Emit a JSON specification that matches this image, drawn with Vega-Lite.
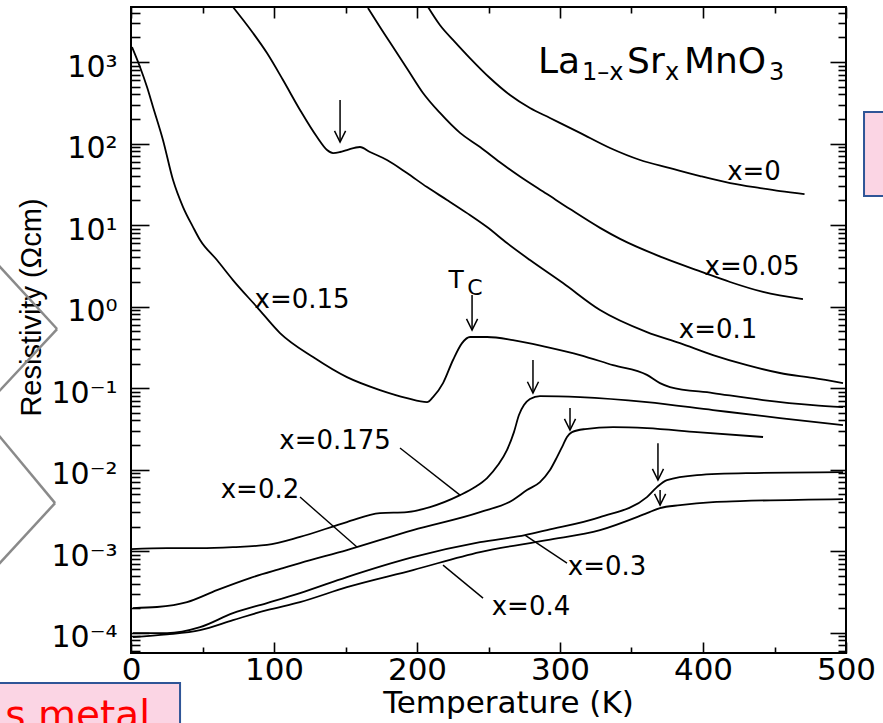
{
  "$schema": "https://vega.github.io/schema/vega-lite/v6.json",
  "width": 715,
  "height": 646,
  "autosize": "none",
  "padding": {"left": 131, "top": 7, "right": 37, "bottom": 70},
  "background": "white",
  "config": {
    "view": {"stroke": "black", "strokeWidth": 2},
    "axis": {"tickColor": "black", "tickWidth": 1.6, "labelColor": "black", "titleColor": "black", "grid": false, "domain": false},
    "text": {"font": "DejaVu Sans", "color": "black"}
  },
  "datasets": {
    "one": [{}],
    "curves": [
      {"s": "x=0", "T": 207.7, "rho": 4730},
      {"s": "x=0", "T": 216.0, "rho": 2844},
      {"s": "x=0", "T": 226.6, "rho": 1758},
      {"s": "x=0", "T": 237.0, "rho": 1119},
      {"s": "x=0", "T": 251.0, "rho": 637},
      {"s": "x=0", "T": 265.0, "rho": 394},
      {"s": "x=0", "T": 279.0, "rho": 273},
      {"s": "x=0", "T": 293.0, "rho": 206},
      {"s": "x=0", "T": 314.0, "rho": 135},
      {"s": "x=0", "T": 335.0, "rho": 88.1},
      {"s": "x=0", "T": 356.0, "rho": 62.8},
      {"s": "x=0", "T": 377.0, "rho": 50.0},
      {"s": "x=0", "T": 398.0, "rho": 39.9},
      {"s": "x=0", "T": 419.0, "rho": 32.7},
      {"s": "x=0", "T": 440.0, "rho": 28.4},
      {"s": "x=0", "T": 454.0, "rho": 26.1},
      {"s": "x=0", "T": 471.0, "rho": 24.0},

      {"s": "x=0.05", "T": 165.7, "rho": 4600},
      {"s": "x=0.05", "T": 174.1, "rho": 2685},
      {"s": "x=0.05", "T": 184.6, "rho": 1403},
      {"s": "x=0.05", "T": 193.7, "rho": 798},
      {"s": "x=0.05", "T": 204.2, "rho": 417},
      {"s": "x=0.05", "T": 216.1, "rho": 237},
      {"s": "x=0.05", "T": 230.1, "rho": 135},
      {"s": "x=0.05", "T": 244.1, "rho": 90.6},
      {"s": "x=0.05", "T": 258.0, "rho": 58.9},
      {"s": "x=0.05", "T": 272.0, "rho": 39.4},
      {"s": "x=0.05", "T": 290.9, "rho": 24.0},
      {"s": "x=0.05", "T": 307.0, "rho": 15.7},
      {"s": "x=0.05", "T": 328.0, "rho": 9.23},
      {"s": "x=0.05", "T": 342.0, "rho": 6.76},
      {"s": "x=0.05", "T": 372.0, "rho": 3.98},
      {"s": "x=0.05", "T": 400.0, "rho": 2.63},
      {"s": "x=0.05", "T": 418.9, "rho": 2.00},
      {"s": "x=0.05", "T": 442.0, "rho": 1.51},
      {"s": "x=0.05", "T": 469.9, "rho": 1.23},

      {"s": "x=0.1", "T": 71.3, "rho": 4730},
      {"s": "x=0.1", "T": 85.3, "rho": 2270},
      {"s": "x=0.1", "T": 95.1, "rho": 1288},
      {"s": "x=0.1", "T": 106.3, "rho": 601},
      {"s": "x=0.1", "T": 118.2, "rho": 258},
      {"s": "x=0.1", "T": 130.1, "rho": 120},
      {"s": "x=0.1", "T": 137.1, "rho": 83.2},
      {"s": "x=0.1", "T": 141.3, "rho": 76.4},
      {"s": "x=0.1", "T": 146.2, "rho": 78.7},
      {"s": "x=0.1", "T": 151.0, "rho": 83.2},
      {"s": "x=0.1", "T": 160.1, "rho": 90.6},
      {"s": "x=0.1", "T": 167.1, "rho": 78.7},
      {"s": "x=0.1", "T": 179.0, "rho": 62.8},
      {"s": "x=0.1", "T": 193.0, "rho": 43.4},
      {"s": "x=0.1", "T": 207.0, "rho": 29.2},
      {"s": "x=0.1", "T": 221.0, "rho": 20.3},
      {"s": "x=0.1", "T": 235.0, "rho": 14.0},
      {"s": "x=0.1", "T": 249.0, "rho": 9.44},
      {"s": "x=0.1", "T": 262.9, "rho": 6.01},
      {"s": "x=0.1", "T": 279.0, "rho": 3.72},
      {"s": "x=0.1", "T": 302.1, "rho": 1.94},
      {"s": "x=0.1", "T": 328.0, "rho": 0.906},
      {"s": "x=0.1", "T": 360.8, "rho": 0.486},
      {"s": "x=0.1", "T": 383.9, "rho": 0.356},
      {"s": "x=0.1", "T": 407.0, "rho": 0.254},
      {"s": "x=0.1", "T": 430.8, "rho": 0.191},
      {"s": "x=0.1", "T": 453.8, "rho": 0.153},
      {"s": "x=0.1", "T": 476.9, "rho": 0.133},
      {"s": "x=0.1", "T": 497.9, "rho": 0.115},

      {"s": "x=0.15", "T": 0.7, "rho": 1528},
      {"s": "x=0.15", "T": 6.3, "rho": 869},
      {"s": "x=0.15", "T": 11.2, "rho": 493},
      {"s": "x=0.15", "T": 15.4, "rho": 281},
      {"s": "x=0.15", "T": 22.4, "rho": 110},
      {"s": "x=0.15", "T": 29.4, "rho": 35.6},
      {"s": "x=0.15", "T": 36.4, "rho": 16.6},
      {"s": "x=0.15", "T": 43.4, "rho": 9.44},
      {"s": "x=0.15", "T": 48.3, "rho": 6.55},
      {"s": "x=0.15", "T": 60.1, "rho": 3.72},
      {"s": "x=0.15", "T": 71.3, "rho": 2.11},
      {"s": "x=0.15", "T": 88.1, "rho": 0.986},
      {"s": "x=0.15", "T": 104.2, "rho": 0.473},
      {"s": "x=0.15", "T": 127.3, "rho": 0.240},
      {"s": "x=0.15", "T": 151.0, "rho": 0.136},
      {"s": "x=0.15", "T": 174.1, "rho": 0.0944},
      {"s": "x=0.15", "T": 193.0, "rho": 0.0753},
      {"s": "x=0.15", "T": 207.0, "rho": 0.0673},
      {"s": "x=0.15", "T": 211.2, "rho": 0.0776},
      {"s": "x=0.15", "T": 218.2, "rho": 0.115},
      {"s": "x=0.15", "T": 225.2, "rho": 0.221},
      {"s": "x=0.15", "T": 231.5, "rho": 0.356},
      {"s": "x=0.15", "T": 237.1, "rho": 0.423},
      {"s": "x=0.15", "T": 249.0, "rho": 0.423},
      {"s": "x=0.15", "T": 267.1, "rho": 0.388},
      {"s": "x=0.15", "T": 290.9, "rho": 0.318},
      {"s": "x=0.15", "T": 314.0, "rho": 0.254},
      {"s": "x=0.15", "T": 337.1, "rho": 0.191},
      {"s": "x=0.15", "T": 360.8, "rho": 0.145},
      {"s": "x=0.15", "T": 369.9, "rho": 0.115},
      {"s": "x=0.15", "T": 376.9, "rho": 0.103},
      {"s": "x=0.15", "T": 407.0, "rho": 0.0869},
      {"s": "x=0.15", "T": 442.0, "rho": 0.0713},
      {"s": "x=0.15", "T": 476.9, "rho": 0.0618},
      {"s": "x=0.15", "T": 497.9, "rho": 0.0585},

      {"s": "x=0.175", "T": 0.0, "rho": 0.00106},
      {"s": "x=0.175", "T": 25.2, "rho": 0.00109},
      {"s": "x=0.175", "T": 48.3, "rho": 0.00109},
      {"s": "x=0.175", "T": 71.3, "rho": 0.00112},
      {"s": "x=0.175", "T": 95.1, "rho": 0.00119},
      {"s": "x=0.175", "T": 118.2, "rho": 0.00149},
      {"s": "x=0.175", "T": 151.0, "rho": 0.00227},
      {"s": "x=0.175", "T": 174.1, "rho": 0.00292},
      {"s": "x=0.175", "T": 193.0, "rho": 0.00301},
      {"s": "x=0.175", "T": 209.1, "rho": 0.00347},
      {"s": "x=0.175", "T": 230.1, "rho": 0.00486},
      {"s": "x=0.175", "T": 240.6, "rho": 0.0061},
      {"s": "x=0.175", "T": 249.0, "rho": 0.00787},
      {"s": "x=0.175", "T": 256.6, "rho": 0.01135},
      {"s": "x=0.175", "T": 262.9, "rho": 0.01734},
      {"s": "x=0.175", "T": 267.8, "rho": 0.0288},
      {"s": "x=0.175", "T": 271.3, "rho": 0.0467},
      {"s": "x=0.175", "T": 274.8, "rho": 0.0618},
      {"s": "x=0.175", "T": 279.0, "rho": 0.0733},
      {"s": "x=0.175", "T": 286.0, "rho": 0.0798},
      {"s": "x=0.175", "T": 314.0, "rho": 0.0776},
      {"s": "x=0.175", "T": 360.8, "rho": 0.0673},
      {"s": "x=0.175", "T": 407.0, "rho": 0.0537},
      {"s": "x=0.175", "T": 453.8, "rho": 0.0429},
      {"s": "x=0.175", "T": 497.9, "rho": 0.0352},

      {"s": "x=0.2", "T": 1.4, "rho": 0.000200},
      {"s": "x=0.2", "T": 18.2, "rho": 0.000206},
      {"s": "x=0.2", "T": 39.2, "rho": 0.000237},
      {"s": "x=0.2", "T": 60.1, "rho": 0.000332},
      {"s": "x=0.2", "T": 83.2, "rho": 0.000467},
      {"s": "x=0.2", "T": 106.3, "rho": 0.000618},
      {"s": "x=0.2", "T": 118.2, "rho": 0.000713},
      {"s": "x=0.2", "T": 151.0, "rho": 0.001028},
      {"s": "x=0.2", "T": 197.2, "rho": 0.00181},
      {"s": "x=0.2", "T": 244.1, "rho": 0.00301},
      {"s": "x=0.2", "T": 267.1, "rho": 0.00423},
      {"s": "x=0.2", "T": 276.9, "rho": 0.00560},
      {"s": "x=0.2", "T": 286.0, "rho": 0.00703},
      {"s": "x=0.2", "T": 293.0, "rho": 0.00986},
      {"s": "x=0.2", "T": 297.9, "rho": 0.01422},
      {"s": "x=0.2", "T": 302.1, "rho": 0.0200},
      {"s": "x=0.2", "T": 304.9, "rho": 0.0251},
      {"s": "x=0.2", "T": 308.4, "rho": 0.0288},
      {"s": "x=0.2", "T": 317.5, "rho": 0.0314},
      {"s": "x=0.2", "T": 337.1, "rho": 0.0332},
      {"s": "x=0.2", "T": 360.8, "rho": 0.0323},
      {"s": "x=0.2", "T": 395.8, "rho": 0.0288},
      {"s": "x=0.2", "T": 442.0, "rho": 0.0251},

      {"s": "x=0.3", "T": 1.4, "rho": 0.0000986},
      {"s": "x=0.3", "T": 25.2, "rho": 0.0000986},
      {"s": "x=0.3", "T": 48.3, "rho": 0.0001167},
      {"s": "x=0.3", "T": 71.3, "rho": 0.0001734},
      {"s": "x=0.3", "T": 95.1, "rho": 0.000230},
      {"s": "x=0.3", "T": 118.2, "rho": 0.000305},
      {"s": "x=0.3", "T": 151.0, "rho": 0.000480},
      {"s": "x=0.3", "T": 197.2, "rho": 0.000843},
      {"s": "x=0.3", "T": 244.1, "rho": 0.001288},
      {"s": "x=0.3", "T": 275.5, "rho": 0.001570},
      {"s": "x=0.3", "T": 290.9, "rho": 0.001811},
      {"s": "x=0.3", "T": 328.0, "rho": 0.00261},
      {"s": "x=0.3", "T": 360.8, "rho": 0.00460},
      {"s": "x=0.3", "T": 367.8, "rho": 0.00610},
      {"s": "x=0.3", "T": 374.8, "rho": 0.00743},
      {"s": "x=0.3", "T": 395.8, "rho": 0.00857},
      {"s": "x=0.3", "T": 430.8, "rho": 0.00906},
      {"s": "x=0.3", "T": 497.9, "rho": 0.00931},

      {"s": "x=0.4", "T": 1.4, "rho": 0.0000881},
      {"s": "x=0.4", "T": 25.2, "rho": 0.0000950},
      {"s": "x=0.4", "T": 48.3, "rho": 0.0001074},
      {"s": "x=0.4", "T": 71.3, "rho": 0.0001422},
      {"s": "x=0.4", "T": 95.1, "rho": 0.0001888},
      {"s": "x=0.4", "T": 118.2, "rho": 0.0002366},
      {"s": "x=0.4", "T": 151.0, "rho": 0.000361},
      {"s": "x=0.4", "T": 197.2, "rho": 0.000585},
      {"s": "x=0.4", "T": 244.1, "rho": 0.000973},
      {"s": "x=0.4", "T": 290.9, "rho": 0.001365},
      {"s": "x=0.4", "T": 328.0, "rho": 0.001811},
      {"s": "x=0.4", "T": 360.8, "rho": 0.00292},
      {"s": "x=0.4", "T": 369.9, "rho": 0.00337},
      {"s": "x=0.4", "T": 384.0, "rho": 0.00366},
      {"s": "x=0.4", "T": 407.0, "rho": 0.00399},
      {"s": "x=0.4", "T": 425.9, "rho": 0.00410},
      {"s": "x=0.4", "T": 497.9, "rho": 0.00435}
    ],
    "arrows": [
      {"T": 146.2, "top": 342, "bot": 104.2},
      {"T": 238.5, "top": 1.384, "bot": 0.515},
      {"T": 281.1, "top": 0.221, "bot": 0.0869},
      {"T": 307.0, "top": 0.0569, "bot": 0.0305},
      {"T": 368.5, "top": 0.0211, "bot": 0.00743},
      {"T": 370.0, "top": 0.00560, "bot": 0.00366}
    ],
    "labels": [
      {"label": "x=0", "T": 435.7, "rho": 44.7},
      {"label": "x=0.05", "T": 434.3, "rho": 3.05},
      {"label": "x=0.1", "T": 410.5, "rho": 0.515},
      {"label": "x=0.15", "T": 119.6, "rho": 1.2},
      {"label": "x=0.175", "T": 142.7, "rho": 0.0224},
      {"label": "x=0.2", "T": 90.2, "rho": 0.0056},
      {"label": "x=0.3", "T": 332.9, "rho": 0.000637},
      {"label": "x=0.4", "T": 279.7, "rho": 0.000206}
    ],
    "leaders": [
      {"T1": 188.1, "r1": 0.01837, "T2": 230.1, "r2": 0.00486},
      {"T1": 118.2, "r1": 0.0046, "T2": 158.0, "r2": 0.00112},
      {"T1": 304.9, "r1": 0.000713, "T2": 275.5, "r2": 0.00157},
      {"T1": 246.2, "r1": 0.000265, "T2": 218.2, "r2": 0.000673}
    ]
  },
  "resolve": {"axis": {"x": "independent", "y": "independent"}},
  "layer": [
    {
      "data": {"name": "curves"},
      "mark": {"type": "line", "color": "black", "strokeWidth": 1.8, "interpolate": "monotone"},
      "encoding": {
        "x": {
          "field": "T", "type": "quantitative",
          "scale": {"domain": [0, 500], "nice": false, "zero": false},
          "axis": {
            "orient": "bottom", "values": [0, 100, 200, 300, 400, 500], "ticks": false,
            "labelFont": "DejaVu Sans", "labelFontSize": 31, "labelPadding": 2, "labelFlush": false, "labelOverlap": false,
            "title": "Temperature (K)", "titleFont": "DejaVu Sans", "titleFontSize": 31, "titleFontWeight": "normal",
            "titleX": 377, "titleY": 59, "titleAlign": "center", "titleBaseline": "alphabetic"
          }
        },
        "y": {
          "field": "rho", "type": "quantitative",
          "scale": {"type": "log", "domain": [0.0000562, 4730], "nice": false},
          "axis": {
            "orient": "left", "values": [0.0001, 0.001, 0.01, 0.1, 1, 10, 100, 1000], "ticks": false,
            "labelExpr": "'10' + ['⁻⁴','⁻³','⁻²','⁻¹','⁰','¹','²','³'][round(log(datum.value)/LN10) + 4]",
            "labelFont": "DejaVu Sans", "labelFontSize": 30, "labelPadding": 14, "labelOffset": 5, "labelFlush": false, "labelOverlap": false,
            "title": "Resistivity (Ωcm)", "titleFont": "Liberation Sans", "titleFontSize": 29, "titleFontWeight": "normal",
            "titleAngle": 270, "titleX": -100, "titleY": 300, "titleAlign": "center", "titleBaseline": "middle"
          }
        },
        "detail": {"field": "s"}
      }
    },
    {
      "data": {"name": "arrows"},
      "mark": {"type": "rule", "color": "black", "strokeWidth": 1.5},
      "encoding": {
        "x": {"field": "T", "type": "quantitative", "scale": {"domain": [0, 500], "nice": false, "zero": false},
          "axis": {"orient": "bottom", "values": [0, 100, 200, 300, 400, 500], "labels": false, "title": null, "tickSize": -11}},
        "y": {"field": "top", "type": "quantitative", "scale": {"type": "log", "domain": [0.0000562, 4730], "nice": false},
          "axis": {"orient": "left", "values": [0.0001, 0.001, 0.01, 0.1, 1, 10, 100, 1000], "labels": false, "title": null, "tickSize": -18}},
        "y2": {"field": "bot"}
      }
    },
    {
      "data": {"name": "arrows"},
      "mark": {"type": "point", "shape": "M-0.42,-0.85L0,0L0.42,-0.85", "filled": false, "stroke": "black", "strokeWidth": 1.5, "size": 700, "opacity": 1},
      "encoding": {
        "x": {"field": "T", "type": "quantitative", "scale": {"domain": [0, 500], "nice": false, "zero": false},
          "axis": {"orient": "bottom", "values": [50, 150, 250, 350, 450], "labels": false, "title": null, "tickSize": -6}},
        "y": {"field": "bot", "type": "quantitative", "scale": {"type": "log", "domain": [0.0000562, 4730], "nice": false},
          "axis": {"orient": "left", "labels": false, "title": null, "tickSize": -9,
            "values": [0.00006, 0.00007, 0.00008, 0.00009,
              0.0002, 0.0003, 0.0004, 0.0005, 0.0006, 0.0007, 0.0008, 0.0009,
              0.002, 0.003, 0.004, 0.005, 0.006, 0.007, 0.008, 0.009,
              0.02, 0.03, 0.04, 0.05, 0.06, 0.07, 0.08, 0.09,
              0.2, 0.3, 0.4, 0.5, 0.6, 0.7, 0.8, 0.9,
              2, 3, 4, 5, 6, 7, 8, 9,
              20, 30, 40, 50, 60, 70, 80, 90,
              200, 300, 400, 500, 600, 700, 800, 900,
              2000, 3000, 4000]}}
      }
    },
    {
      "data": {"name": "labels"},
      "mark": {"type": "text", "font": "DejaVu Sans", "fontSize": 26, "align": "center", "baseline": "middle", "color": "black"},
      "encoding": {
        "x": {"field": "T", "type": "quantitative", "scale": {"domain": [0, 500], "nice": false, "zero": false},
          "axis": {"orient": "top", "values": [0, 100, 200, 300, 400, 500], "labels": false, "title": null, "tickSize": -11}},
        "y": {"field": "rho", "type": "quantitative", "scale": {"type": "log", "domain": [0.0000562, 4730], "nice": false},
          "axis": {"orient": "right", "values": [0.0001, 0.001, 0.01, 0.1, 1, 10, 100, 1000], "labels": false, "title": null, "tickSize": -16}},
        "text": {"field": "label"}
      }
    },
    {
      "data": {"name": "leaders"},
      "mark": {"type": "rule", "color": "black", "strokeWidth": 1.4},
      "encoding": {
        "x": {"field": "T1", "type": "quantitative", "scale": {"domain": [0, 500], "nice": false, "zero": false},
          "axis": {"orient": "top", "values": [50, 150, 250, 350, 450], "labels": false, "title": null, "tickSize": -6}},
        "y": {"field": "r1", "type": "quantitative", "scale": {"type": "log", "domain": [0.0000562, 4730], "nice": false},
          "axis": {"orient": "right", "labels": false, "title": null, "tickSize": -8,
            "values": [0.00006, 0.00007, 0.00008, 0.00009,
              0.0002, 0.0003, 0.0004, 0.0005, 0.0006, 0.0007, 0.0008, 0.0009,
              0.002, 0.003, 0.004, 0.005, 0.006, 0.007, 0.008, 0.009,
              0.02, 0.03, 0.04, 0.05, 0.06, 0.07, 0.08, 0.09,
              0.2, 0.3, 0.4, 0.5, 0.6, 0.7, 0.8, 0.9,
              2, 3, 4, 5, 6, 7, 8, 9,
              20, 30, 40, 50, 60, 70, 80, 90,
              200, 300, 400, 500, 600, 700, 800, 900,
              2000, 3000, 4000]}},
        "x2": {"field": "T2"},
        "y2": {"field": "r2"}
      }
    },
    {
      "data": {"name": "one"},
      "mark": {"type": "text", "fontSize": 25, "align": "center", "baseline": "alphabetic", "text": "T"},
      "encoding": {"x": {"datum": 227.3, "axis": null}, "y": {"datum": 1.687, "axis": null}}
    },
    {
      "data": {"name": "one"},
      "mark": {"type": "text", "fontSize": 22, "align": "center", "baseline": "alphabetic", "text": "C"},
      "encoding": {"x": {"datum": 240.6, "axis": null}, "y": {"datum": 1.384, "axis": null}}
    },
    {
      "data": {"name": "one"},
      "mark": {"type": "text", "fontSize": 36, "align": "left", "baseline": "alphabetic", "text": "La"},
      "encoding": {"x": {"datum": 284.6, "axis": null}, "y": {"datum": 733, "axis": null}}
    },
    {
      "data": {"name": "one"},
      "mark": {"type": "text", "fontSize": 24, "align": "left", "baseline": "alphabetic", "text": "1–x"},
      "encoding": {"x": {"datum": 315.4, "axis": null}, "y": {"datum": 601, "axis": null}}
    },
    {
      "data": {"name": "one"},
      "mark": {"type": "text", "fontSize": 36, "align": "left", "baseline": "alphabetic", "text": "Sr"},
      "encoding": {"x": {"datum": 346.9, "axis": null}, "y": {"datum": 733, "axis": null}}
    },
    {
      "data": {"name": "one"},
      "mark": {"type": "text", "fontSize": 24, "align": "left", "baseline": "alphabetic", "text": "x"},
      "encoding": {"x": {"datum": 373.4, "axis": null}, "y": {"datum": 601, "axis": null}}
    },
    {
      "data": {"name": "one"},
      "mark": {"type": "text", "fontSize": 36, "align": "left", "baseline": "alphabetic", "text": "MnO"},
      "encoding": {"x": {"datum": 386.7, "axis": null}, "y": {"datum": 733, "axis": null}}
    },
    {
      "data": {"name": "one"},
      "mark": {"type": "text", "fontSize": 24, "align": "left", "baseline": "alphabetic", "text": "3"},
      "encoding": {"x": {"datum": 446.2, "axis": null}, "y": {"datum": 601, "axis": null}}
    },
    {
      "data": {"name": "one"},
      "mark": {"type": "rule", "color": "#8a8a8a", "strokeWidth": 2.5},
      "encoding": {"x": {"datum": -95, "axis": null}, "y": {"datum": 3.56, "axis": null}, "x2": {"datum": -51.7}, "y2": {"datum": 0.530}}
    },
    {
      "data": {"name": "one"},
      "mark": {"type": "rule", "color": "#8a8a8a", "strokeWidth": 2.5},
      "encoding": {"x": {"datum": -51.7, "axis": null}, "y": {"datum": 0.530, "axis": null}, "x2": {"datum": -95}, "y2": {"datum": 0.0811}}
    },
    {
      "data": {"name": "one"},
      "mark": {"type": "rule", "color": "#8a8a8a", "strokeWidth": 2.5},
      "encoding": {"x": {"datum": -95, "axis": null}, "y": {"datum": 0.0297, "axis": null}, "x2": {"datum": -53.1}, "y2": {"datum": 0.00388}}
    },
    {
      "data": {"name": "one"},
      "mark": {"type": "rule", "color": "#8a8a8a", "strokeWidth": 2.5},
      "encoding": {"x": {"datum": -53.1, "axis": null}, "y": {"datum": 0.00388, "axis": null}, "x2": {"datum": -95}, "y2": {"datum": 0.000618}}
    },
    {
      "data": {"name": "one"},
      "mark": {"type": "rect", "fill": "#fbd5e4", "stroke": "#2f5597", "strokeWidth": 2},
      "encoding": {"x": {"datum": -95, "axis": null}, "x2": {"datum": 34.3}, "y": {"datum": 0.000024, "axis": null}, "y2": {"datum": 0.0000048}}
    },
    {
      "data": {"name": "one"},
      "mark": {"type": "text", "fontSize": 39, "align": "right", "baseline": "alphabetic", "color": "#ff0000", "text": "s metal"},
      "encoding": {"x": {"datum": 13.3, "axis": null}, "y": {"datum": 0.00000673, "axis": null}}
    },
    {
      "data": {"name": "one"},
      "mark": {"type": "rect", "fill": "#fbd5e4", "stroke": "#2f5597", "strokeWidth": 2},
      "encoding": {"x": {"datum": 512.6, "axis": null}, "x2": {"datum": 540}, "y": {"datum": 244, "axis": null}, "y2": {"datum": 22.7}}
    }
  ]
}
